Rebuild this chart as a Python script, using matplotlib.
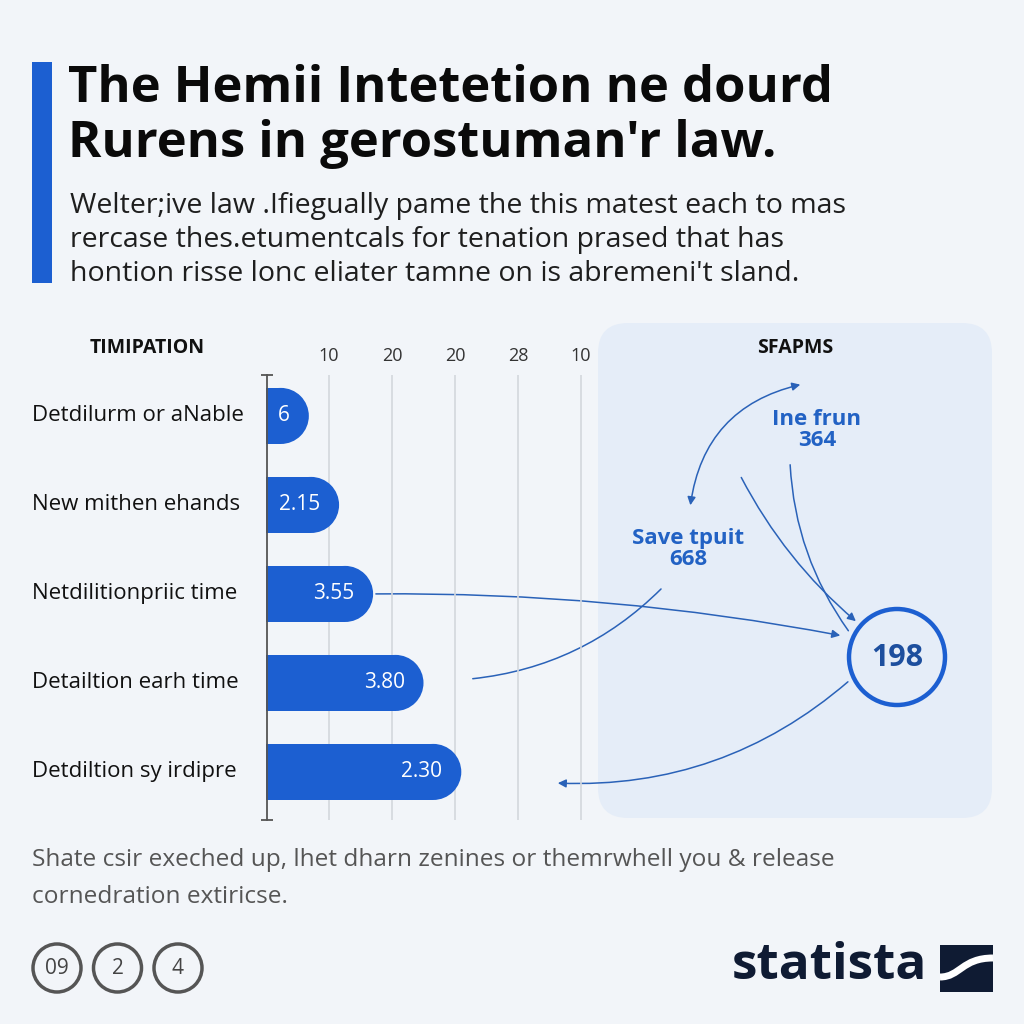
import matplotlib.pyplot as plt
import matplotlib.transforms as mtransforms
from matplotlib.patches import FancyBboxPatch, Ellipse, Circle, Rectangle, FancyArrowPatch, PathPatch
from matplotlib.path import Path

# data
categories = ['Detdilurm or aNable', 'New mithen ehands', 'Netdilitionpriic time',
              'Detailtion earh time', 'Detdiltion sy irdipre']
bar_lengths = [6.8, 11.6, 17.0, 25.0, 31.0]
bar_labels = ['6', '2.15', '3.55', '3.80', '2.30']
tick_pos = [10, 20, 30, 40, 50]
tick_labels = ['10', '20', '20', '28', '10']
node_labels = ['Ine frun', 'Save tpuit']
node_values = [364, 668]
hub_value = 198
badges = ['09', '2', '4']

BG = '#f2f5f9'
BLUE = '#1c5fd1'
NAVY = '#0f1b33'
SANS = ['Open Sans', 'DejaVu Sans']

plt.rcParams['font.family'] = SANS

fig = plt.figure(figsize=(10.24, 10.24), dpi=100, facecolor=BG)

# background layer in pixel units (y downwards)
bg = fig.add_axes([0, 0, 1, 1], zorder=0)
bg.set_xlim(0, 1024)
bg.set_ylim(1024, 0)
bg.axis('off')

# title block
bg.add_patch(Rectangle((32, 62), 20, 221, color=BLUE, lw=0))
bg.text(68, 89, 'The Hemii Intetetion ne dourd', fontsize=36.5, fontweight='bold',
        color='#0a0a0a', va='center')
bg.text(68, 144, "Rurens in gerostuman'r law.", fontsize=36.5, fontweight='bold',
        color='#0a0a0a', va='center')
sub = ['Welter;ive law .Ifiegually pame the this matest each to mas',
       'rercase thes.etumentcals for tenation prased that has',
       'hontion risse lonc eliater tamne on is abremeni\'t sland.']
for k, line in enumerate(sub):
    bg.text(70, 206 + 34 * k, line, fontsize=20.5, color='#1e1e1e', va='center')

# right panel
bg.add_patch(FancyBboxPatch((598, 323), 394, 495, boxstyle='round,pad=0,rounding_size=30',
                            fc='#e5edf8', ec='none'))
bg.text(795, 348, 'SFAPMS', fontsize=14, fontweight='bold', color='#111', ha='center', va='center')
bg.text(147, 348, 'TIMIPATION', fontsize=14, fontweight='bold', color='#111', ha='center', va='center')

# bar chart
ax = fig.add_axes([266 / 1024, (1024 - 820) / 1024, (598 - 266) / 1024, (820 - 375) / 1024],
                  zorder=1, facecolor='none')
px_per_unit = 6.3
ax.set_xlim(0, (598 - 266) / px_per_unit)
ax.set_ylim(4.54, -0.46)
h = 0.63
rx = 28 / px_per_unit
for i, v in enumerate(bar_lengths):
    ax.barh(i, v - rx, height=h, left=0, color=BLUE, lw=0, zorder=3)
    ax.add_patch(Ellipse((v - rx, i), 2 * rx, h, color=BLUE, lw=0, zorder=3))
    ax.text(v - 3.0, i, bar_labels[i], color='white', fontsize=15, ha='right', va='center', zorder=4)

ax.set_xticks(tick_pos)
ax.set_xticklabels(tick_labels)
ax.xaxis.tick_top()
ax.tick_params(axis='x', length=0, labelsize=13, labelcolor='#333', pad=7)
ax.set_yticks([])
ax.grid(axis='x', color='#d3d7dd', lw=1.2, zorder=0)
for s in ax.spines.values():
    s.set_visible(False)
ax.plot([0.15, 0.15], [-0.46, 4.54], color='#555', lw=1.3, marker='_', ms=9, mew=1.3,
        clip_on=False, zorder=5)

# category labels, x in pixels, y from the bar axis
lab_tr = mtransforms.blended_transform_factory(bg.transData, ax.transData)
for i, c in enumerate(categories):
    bg.text(32, i, c, transform=lab_tr, fontsize=16, color='#111', va='center', ha='left')

# hub and nodes
bg.add_patch(Circle((897, 657), 48, fc='none', ec=BLUE, lw=3.2))
bg.text(897, 658, str(hub_value), fontsize=22, fontweight='bold', color='#1d4f9e', ha='center', va='center')
node_xy = [(817, 430), (688, 549)]
for (x, y), lab, val in zip(node_xy, node_labels, node_values):
    bg.text(x, y, f'{lab}\n{val}', fontsize=16, fontweight='bold', color='#2262c4',
            ha='center', va='center', linespacing=1.05)

ARC = dict(color='#2a62b8', lw=1.1)
def link(p0, p1, rad, style='-|>'):
    bg.add_patch(FancyArrowPatch(p0, p1, connectionstyle=f'arc3,rad={rad}',
                                 arrowstyle=style, mutation_scale=12, **ARC))

# from the end of the third bar to the hub
x3 = ax.transData.transform((bar_lengths[2], 2))
p_start = bg.transData.inverted().transform(x3)
link(tuple(p_start), (843, 636), -0.05)
link((470, 679), (663, 587), 0.18, '-')
link((803, 384), (690, 508), 0.35, '<|-|>')
link((740, 475), (858, 623), 0.1)
link((790, 462), (850, 633), 0.15, '-')
link((850, 680), (555, 783), -0.2)

# footer
bg.text(32, 860, 'Shate csir exeched up, lhet dharn zenines or themrwhell you & release',
        fontsize=17.6, color='#555', va='center')
bg.text(32, 897, 'cornedration extiricse.', fontsize=17.6, color='#555', va='center')
for k, b in enumerate(badges):
    cx = 57 + 60.5 * k
    bg.add_patch(Circle((cx, 968), 24, fc='none', ec='#555', lw=2.5))
    bg.text(cx, 969, b, fontsize=15, color='#444', ha='center', va='center')

# statista logo
bg.text(927, 966, 'statista', fontsize=37, fontweight='bold', color=NAVY,
        ha='right', va='center')
bg.add_patch(Rectangle((940, 945), 53, 47, color=NAVY, lw=0))
wave = Path([(940, 977), (960, 977), (962, 958), (993, 958)],
            [Path.MOVETO, Path.CURVE4, Path.CURVE4, Path.CURVE4])
bg.add_patch(PathPatch(wave, fc='none', ec='white', lw=5))

fig.savefig('out.png', dpi=100, facecolor=BG)
